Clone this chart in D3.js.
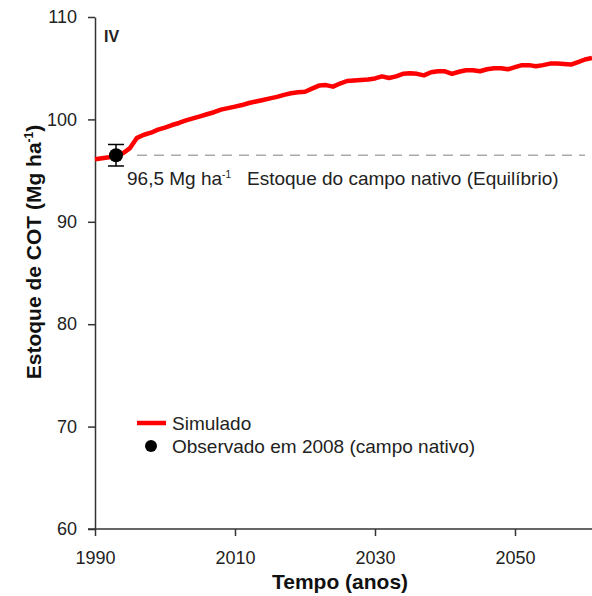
<!DOCTYPE html>
<html>
<head>
<meta charset="utf-8">
<script src="https://cdn.jsdelivr.net/npm/d3@7"></script>
<style>
  body { margin: 0; background: #fff; }
  svg { font-family: "Liberation Sans", Arial, sans-serif; }
</style>
</head>
<body>
<script>
// dados
const anos = d3.range(1990, 2062);
const simulado = [
  96.1, 96.2, 96.3, 96.45, 96.7, 97.2, 98.2, 98.5, 98.7, 99.0,
  99.2, 99.45, 99.65, 99.9, 100.1, 100.3, 100.5, 100.7, 100.95, 101.1,
  101.25, 101.4, 101.6, 101.75, 101.9, 102.05, 102.2, 102.4, 102.55, 102.65,
  102.7, 103.0, 103.3, 103.35, 103.2, 103.5, 103.75, 103.8, 103.85, 103.9,
  104.0, 104.2, 104.05, 104.2, 104.45, 104.5, 104.45, 104.3, 104.6, 104.7,
  104.7, 104.45, 104.65, 104.8, 104.8, 104.7, 104.9, 105.0, 105.0, 104.9,
  105.1, 105.3, 105.3, 105.2, 105.3, 105.45, 105.45, 105.4, 105.35, 105.6,
  105.85, 106.0
];
const observadoAno = [1993];
const observadoValor = [96.5];
const observadoErro = [1.05];
const equilibrio = 96.5;
const xTicks = [1990, 2010, 2030, 2050];
const yTicks = [60, 70, 80, 90, 100, 110];

const width = 592;
const height = 596;

const svg = d3.select("body").append("svg")
    .attr("width", width)
    .attr("height", height);

const x = d3.scaleLinear().domain([1990, 2061]).range([95, 592]);
const y = d3.scaleLinear().domain([60, 110]).range([529, 17]);

// eixos
const eixoY = svg.append("g")
    .attr("transform", `translate(${x(1990)},0)`)
    .call(d3.axisLeft(y).tickValues(yTicks).tickSize(7).tickPadding(11).tickSizeOuter(0));
const eixoX = svg.append("g")
    .attr("transform", `translate(0,${y(60)})`)
    .call(d3.axisBottom(x).tickValues(xTicks).tickFormat(d3.format("d")).tickSize(7).tickPadding(15).tickSizeOuter(0));

[eixoY, eixoX].forEach(g => {
    g.select(".domain").attr("stroke", "#333").attr("stroke-width", 1.5);
    g.selectAll(".tick line").attr("stroke", "#333").attr("stroke-width", 1.5);
    g.selectAll(".tick text").attr("fill", "#222").style("font-size", "18px")
        .style("font-family", "'Liberation Sans', Arial, sans-serif");
});
// domínio do x passa um pouco à esquerda do eixo y
eixoX.select(".domain").attr("d", `M${x(1990) - 7},0H${width}`);

// linha do equilíbrio
svg.append("line")
    .attr("x1", 137).attr("x2", 585)
    .attr("y1", y(equilibrio)).attr("y2", y(equilibrio))
    .attr("stroke", "#aaa").attr("stroke-width", 1.5)
    .attr("stroke-dasharray", "10,7");

// série simulada
const linha = d3.line()
    .x((d, i) => x(anos[i]))
    .y(d => y(d));

svg.append("path")
    .datum(simulado)
    .attr("d", linha)
    .attr("fill", "none")
    .attr("stroke", "#ff0000")
    .attr("stroke-width", 4.5)
    .attr("stroke-linejoin", "round");

// observado com barra de erro
observadoAno.forEach((a, i) => {
    const cx = x(a);
    const g = svg.append("g").attr("stroke", "#000").attr("stroke-width", 1.5);
    g.append("line").attr("x1", cx).attr("x2", cx)
        .attr("y1", y(observadoValor[i] + observadoErro[i])).attr("y2", y(observadoValor[i] - observadoErro[i]));
    [1, -1].forEach(s => {
        g.append("line").attr("x1", cx - 8).attr("x2", cx + 8)
            .attr("y1", y(observadoValor[i] + s * observadoErro[i]))
            .attr("y2", y(observadoValor[i] + s * observadoErro[i]));
    });
    svg.append("circle").attr("cx", cx).attr("cy", y(observadoValor[i])).attr("r", 7).attr("fill", "#000");
});

// textos
const rotulo = svg.append("text")
    .attr("x", 127).attr("y", 185)
    .attr("fill", "#222").style("font-size", "19px");
rotulo.append("tspan").text("96,5  Mg ha");
rotulo.append("tspan").text("-1").attr("dy", -7).style("font-size", "10px");
rotulo.append("tspan").text("Estoque do campo nativo (Equilíbrio)").attr("x", 247).attr("dy", 7);

svg.append("text")
    .attr("x", 104).attr("y", 42)
    .style("font-size", "16px").style("font-weight", "bold")
    .attr("fill", "#222")
    .text("IV");

// legenda
svg.append("line")
    .attr("x1", 137).attr("x2", 166)
    .attr("y1", 423).attr("y2", 423)
    .attr("stroke", "#ff0000").attr("stroke-width", 4.5);
svg.append("text").attr("x", 172).attr("y", 430)
    .attr("fill", "#222").style("font-size", "19px").text("Simulado");
svg.append("circle").attr("cx", 151).attr("cy", 446).attr("r", 6).attr("fill", "#000");
svg.append("text").attr("x", 172).attr("y", 453)
    .attr("fill", "#222").style("font-size", "19px").text("Observado em 2008 (campo nativo)");

// títulos dos eixos
svg.append("text")
    .attr("x", 340).attr("y", 589)
    .attr("text-anchor", "middle")
    .style("font-size", "21px").style("font-weight", "bold")
    .attr("fill", "#111")
    .text("Tempo (anos)");

const tituloY = svg.append("text")
    .attr("transform", "translate(41,252) rotate(-90)")
    .attr("text-anchor", "middle")
    .style("font-size", "21px").style("font-weight", "bold")
    .attr("fill", "#111");
tituloY.append("tspan").text("Estoque de COT (Mg ha");
tituloY.append("tspan").text("-1").attr("dy", -8).style("font-size", "12px");
tituloY.append("tspan").text(")").attr("dy", 8);
</script>
</body>
</html>
